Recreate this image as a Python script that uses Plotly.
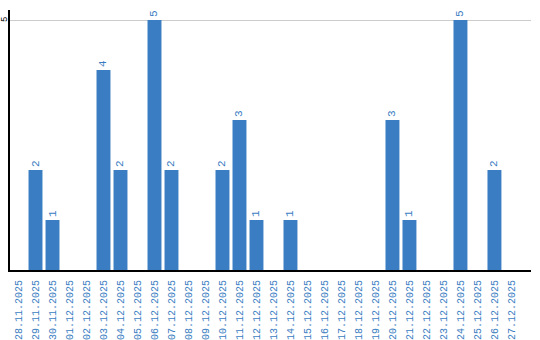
import plotly.graph_objects as go

dates = ["28.11.2025","29.11.2025","30.11.2025","01.12.2025","02.12.2025","03.12.2025",
         "04.12.2025","05.12.2025","06.12.2025","07.12.2025","08.12.2025","09.12.2025",
         "10.12.2025","11.12.2025","12.12.2025","13.12.2025","14.12.2025","15.12.2025",
         "16.12.2025","17.12.2025","18.12.2025","19.12.2025","20.12.2025","21.12.2025",
         "22.12.2025","23.12.2025","24.12.2025","25.12.2025","26.12.2025","27.12.2025"]
values = [0,2,1,0,0,4,2,0,5,2,0,0,2,3,1,0,1,0,0,0,0,0,3,1,0,0,5,0,2,0]
y_ticks = [5]

labels = [str(v) if v else "" for v in values]
blue = "#3a7dc2"
mono = "Liberation Mono"

fig = go.Figure(go.Bar(
    x=dates, y=values, marker_color=blue, marker_line_width=0,
    text=labels, textposition="outside", textangle=-90,
    textfont=dict(family=mono, size=11, color=blue),
    cliponaxis=False,
))
fig.update_layout(
    width=540, height=340, margin=dict(l=10, r=9, t=10, b=70),
    plot_bgcolor="white", paper_bgcolor="white", showlegend=False,
    bargap=0.18,
    xaxis=dict(type="category", range=[-0.5, 30.15], showline=True, linecolor="black",
               linewidth=2, showgrid=False, tickangle=-90, ticks="", automargin=False,
               ticklabelstandoff=4,
               tickfont=dict(family=mono, size=10, color=blue)),
    yaxis=dict(range=[0, 5.2], tickvals=y_ticks, showticklabels=False, showline=True,
               linecolor="black", linewidth=2, gridcolor="#cccccc", gridwidth=1,
               zeroline=False, ticks="", automargin=False),
)
for t in y_ticks:
    fig.add_annotation(x=0, xref="paper", y=t, yref="y", text=str(t), showarrow=False,
                       textangle=-90, xanchor="center", yanchor="middle", xshift=-5,
                       font=dict(family=mono, size=9, color="black"))
fig.write_html("out.html")
